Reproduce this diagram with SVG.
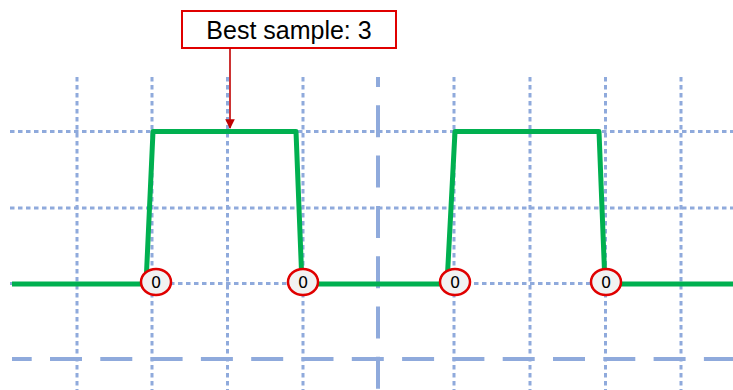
<svg xmlns="http://www.w3.org/2000/svg" width="733" height="390" viewBox="0 0 733 390">
  <style>
    .dot { stroke: #8faadc; stroke-width: 3; stroke-dasharray: 4.5 3.5; fill: none; }
    .dash { stroke: #8faadc; stroke-width: 4; stroke-dasharray: 32 18.3; stroke-linecap: butt; fill: none; }
    .wave { stroke: #00b050; stroke-width: 5; fill: none; stroke-linejoin: round; }
    .edge ellipse { fill: #f2f2f2; stroke: #e00000; stroke-width: 2.5; }
    .edge text { font-family: "DejaVu Sans", Verdana, sans-serif; font-size: 16px; fill: #000; text-anchor: middle; }
    .label { font-family: "Liberation Sans", Arial, sans-serif; font-size: 25px; fill: #000; text-anchor: middle; }
  </style>
  <defs>
    <marker id="arrow" viewBox="0 0 10 10" refX="9" refY="5" markerWidth="6" markerHeight="6" orient="auto">
      <path d="M0,0 L10,5 L0,10 z" fill="#c00000"/>
    </marker>
  </defs>
  <rect width="733" height="390" fill="#ffffff"/>

  <!-- sampling grid -->
  <g id="grid">
    <line class="dot" x1="10" y1="131.5" x2="733" y2="131.5"/>
    <line class="dot" x1="10" y1="208" x2="733" y2="208"/>
    <line class="dot" x1="10" y1="283.5" x2="733" y2="283.5"/>
    <line class="dot" x1="77" y1="77" x2="77" y2="390"/>
    <line class="dot" x1="152" y1="77" x2="152" y2="390"/>
    <line class="dot" x1="227.5" y1="77" x2="227.5" y2="390"/>
    <line class="dot" x1="303" y1="77" x2="303" y2="390"/>
    <line class="dot" x1="454" y1="77" x2="454" y2="390"/>
    <line class="dot" x1="530" y1="77" x2="530" y2="390"/>
    <line class="dot" x1="605.5" y1="77" x2="605.5" y2="390"/>
    <line class="dot" x1="681" y1="77" x2="681" y2="390"/>
    <line class="dash" x1="12" y1="359" x2="733" y2="359" stroke-dashoffset="12.3"/>
    <line class="dash" x1="378" y1="77" x2="378" y2="390" stroke-dashoffset="22"/>
  </g>

  <!-- signal waveform -->
  <g id="signal">
    <path class="wave" d="M12,284 L146,284 L153,131.5 L296,131.5 L302,284 L447,284 L455,131.5 L599,131.5 L605,284 L733,284"/>
  </g>

  <!-- zero-crossing markers -->
  <g id="edge1" class="edge">
    <ellipse cx="156" cy="282" rx="15" ry="13"/>
    <text x="156" y="288">0</text>
  </g>
  <g id="edge2" class="edge">
    <ellipse cx="303" cy="282" rx="15" ry="13"/>
    <text x="303" y="288">0</text>
  </g>
  <g id="edge3" class="edge">
    <ellipse cx="455" cy="282" rx="15" ry="13"/>
    <text x="455" y="288">0</text>
  </g>
  <g id="edge4" class="edge">
    <ellipse cx="606" cy="282" rx="15" ry="13"/>
    <text x="606" y="288">0</text>
  </g>

  <!-- callout -->
  <g id="best-sample">
    <rect x="182" y="11" width="214" height="37" fill="#ffffff" stroke="#e00000" stroke-width="2"/>
    <text class="label" x="289" y="39">Best sample: 3</text>
  </g>

  <g id="connectors">
    <line x1="230" y1="48" x2="230" y2="128" stroke="#c00000" stroke-width="1.6" marker-end="url(#arrow)"/>
  </g>
</svg>
